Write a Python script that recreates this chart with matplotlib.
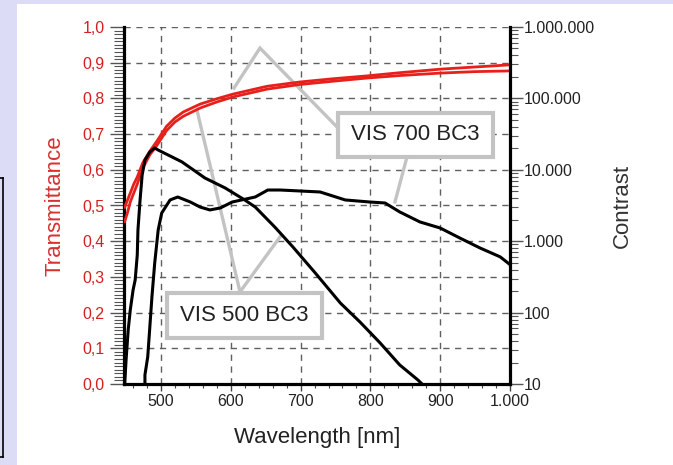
import matplotlib
matplotlib.use("Agg")
import matplotlib.pyplot as plt
from matplotlib.patches import Rectangle
from matplotlib.lines import Line2D
from matplotlib.ticker import FixedLocator, FixedFormatter, MultipleLocator, LogLocator, NullFormatter

plt.rcParams['font.family'] = ['Liberation Sans', 'DejaVu Sans']

# ---------------- data ----------------
x_ticks = [500, 600, 700, 800, 900, 1000]
x_ticklabels = ["500", "600", "700", "800", "900", "1.000"]
t_ticks = [0.0, 0.1, 0.2, 0.3, 0.4, 0.5, 0.6, 0.7, 0.8, 0.9, 1.0]
t_ticklabels = ["0,0", "0,1", "0,2", "0,3", "0,4", "0,5", "0,6", "0,7", "0,8", "0,9", "1,0"]
c_ticks = [10, 100, 1000, 10000, 100000, 1000000]
c_ticklabels = ["10", "100", "1.000", "10.000", "100.000", "1.000.000"]

# transmittance (two nearly coincident red traces)
wl_trans = [448, 452, 456, 461, 466, 474, 484, 494, 508, 520, 532, 556, 580, 603,
            652, 699, 746, 795, 842, 901, 950, 1000]
trans_a = [0.495, 0.515, 0.535, 0.56, 0.58, 0.62, 0.652, 0.68, 0.722, 0.745, 0.762,
           0.784, 0.799, 0.812, 0.834, 0.846, 0.855, 0.863, 0.872, 0.882, 0.888, 0.894]
trans_b = [0.455, 0.48, 0.51, 0.535, 0.56, 0.605, 0.642, 0.668, 0.71, 0.734, 0.75,
           0.773, 0.79, 0.804, 0.826, 0.839, 0.848, 0.857, 0.864, 0.871, 0.875, 0.877]

# contrast VIS 500 BC3
wl_c500 = [448, 450, 453, 456, 460, 463, 466, 467, 470, 473, 477, 484, 491, 496,
           530, 563, 592, 620, 635, 663, 689, 721, 757, 785, 814, 842, 868, 874]
c500 = [10, 22, 57, 109, 207, 286, 640, 1440, 3780, 8450, 13700, 17800, 20200, 18900,
        12900, 7670, 5560, 3780, 3010, 1580, 830, 359, 136, 74, 37.5, 18.5, 11.4, 10]

# contrast VIS 700 BC3
wl_c700 = [477, 477, 481, 487, 491, 496, 501, 513, 524, 542, 556, 570, 585, 602, 635,
           653, 671, 728, 764, 799, 821, 842, 871, 900, 928, 957, 986, 1000]
c700 = [10, 13.4, 24, 165, 495, 1440, 2480, 3780, 4160, 3540, 3010, 2740, 2920, 3540,
        4160, 5210, 5210, 4890, 3780, 3540, 3430, 2570, 1860, 1530, 1110, 804, 603, 470]

# ---------------- figure ----------------
W, H = 673, 465
fig = plt.figure(figsize=(W / 100, H / 100), dpi=100)
fig.patch.set_facecolor('#dcdcf6')
fig.add_artist(Rectangle((17 / W, 0), 1 - 17 / W, 1 - 4 / H, transform=fig.transFigure,
                         facecolor='white', edgecolor='none', zorder=-10))
# partial black frame at the left edge
fig.add_artist(Line2D([3 / W, 3 / W], [1 - 457 / H, 1 - 178 / H], transform=fig.transFigure,
                      color='black', lw=1.2))
fig.add_artist(Line2D([0, 3 / W], [1 - 178 / H, 1 - 178 / H], transform=fig.transFigure,
                      color='black', lw=1.2))
fig.add_artist(Line2D([0, 3 / W], [1 - 457 / H, 1 - 457 / H], transform=fig.transFigure,
                      color='black', lw=1.2))

left, right, top, bottom = 124 / W, 510 / W, 27 / H, 384 / H
ax = fig.add_axes([left, 1 - bottom, right - left, bottom - top])
ax.set_facecolor('white')
ax.set_xlim(447, 1000)
ax.set_ylim(0, 1)

red = '#e8201c'
ax.plot(wl_trans, trans_a, color=red, lw=2.0, zorder=4, solid_joinstyle='round')
ax.plot(wl_trans, trans_b, color=red, lw=2.0, zorder=4, solid_joinstyle='round')

# grid
grid_kw = dict(color='#606060', lw=1.0, dashes=(4.5, 4), zorder=1)
for xv in x_ticks[:-1]:
    ax.axvline(xv, **grid_kw)
for tv in t_ticks[1:]:
    ax.axhline(tv, **grid_kw)

# spines
for s in ['left', 'bottom']:
    ax.spines[s].set_linewidth(2.3)
ax.spines['top'].set_visible(False)
ax.spines['right'].set_visible(False)

ax.xaxis.set_major_locator(FixedLocator(x_ticks))
ax.xaxis.set_major_formatter(FixedFormatter(x_ticklabels))
ax.xaxis.set_minor_locator(MultipleLocator(20))
ax.yaxis.set_major_locator(FixedLocator(t_ticks))
ax.yaxis.set_major_formatter(FixedFormatter(t_ticklabels))
ax.yaxis.set_minor_locator(MultipleLocator(0.01))
ax.tick_params(axis='x', which='major', length=5, width=1, color='#444444', pad=2,
               labelsize=11.5, labelcolor='#222222')
ax.tick_params(axis='x', which='minor', length=3, width=0.8, color='#444444')
ax.tick_params(axis='y', which='major', length=10, width=1, color='#555555', pad=4,
               labelsize=11.5, labelcolor='#d42020')
ax.tick_params(axis='y', which='minor', length=7, width=0.8, color='#555555')

ax.set_xlabel('Wavelength [nm]', fontsize=16, color='#222222', labelpad=13)
ax.set_ylabel('Transmittance', fontsize=16, color='#d83030', labelpad=12)

# callouts
gray = '#c3c3c3'
ax.plot([604.6, 641.8, 753.6], [0.829, 0.941, 0.717], color=gray, lw=2.4, zorder=2,
        solid_joinstyle='miter')
ax.plot([852.4, 835.2], [0.636, 0.510], color=gray, lw=2.4, zorder=2)
ax.plot([551.6, 613.2, 670.5], [0.767, 0.258, 0.412], color=gray, lw=2.4, zorder=2,
        solid_joinstyle='miter')
ax.add_patch(Rectangle((753.6, 0.636), 975.7 - 753.6, 0.759 - 0.636, facecolor='white',
                       edgecolor=gray, lw=3, zorder=3))
ax.text((753.6 + 975.7) / 2, (0.636 + 0.759) / 2, 'VIS 700 BC3', ha='center', va='center',
        fontsize=16, color='#222222', zorder=5)
ax.add_patch(Rectangle((508.6, 0.129), 730.7 - 508.6, 0.255 - 0.129, facecolor='white',
                       edgecolor=gray, lw=3, zorder=3))
ax.text((508.6 + 730.7) / 2, (0.129 + 0.255) / 2, 'VIS 500 BC3', ha='center', va='center',
        fontsize=16, color='#222222', zorder=5)

# contrast axis
ax2 = ax.twinx()
ax2.set_yscale('log')
ax2.set_ylim(10, 1e6)
ax2.plot(wl_c500, c500, color='black', lw=2.2, zorder=5)
ax2.plot(wl_c700, c700, color='black', lw=2.2, zorder=5)
for s in ['left', 'bottom', 'top']:
    ax2.spines[s].set_visible(False)
ax2.spines['right'].set_linewidth(2.3)
ax2.yaxis.set_major_locator(FixedLocator(c_ticks))
ax2.yaxis.set_major_formatter(FixedFormatter(c_ticklabels))
ax2.yaxis.set_minor_locator(LogLocator(base=10, subs=range(2, 10)))
ax2.yaxis.set_minor_formatter(NullFormatter())
ax2.tick_params(axis='y', which='major', length=9, width=1, color='#555555', pad=1,
                labelsize=11.5, labelcolor='#222222')
ax2.tick_params(axis='y', which='minor', length=6, width=0.8, color='#555555')
ax2.set_ylabel('Contrast', fontsize=16, color='#333333', labelpad=12)

fig.savefig('out.png', dpi=100, facecolor=fig.get_facecolor())
